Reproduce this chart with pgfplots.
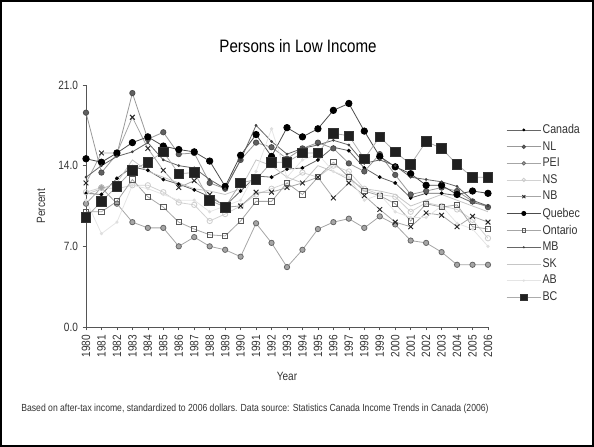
\documentclass[border=0pt]{standalone}
\usepackage{fontspec}
\setmainfont{Liberation Sans}[FakeStretch=0.84]
\usepackage{pgfplots}
\usepackage{pgfplotstable}
\pgfplotsset{compat=1.18}

% percent of persons in low income, by province
\pgfplotstableread{
year Canada NL PEI NS NB Quebec Ontario MB SK AB BC
1980 11.6 18.6 10.7 11.7 12.5 14.6 10.0 13.0 11.5 11.0 9.5
1981 11.5 13.4 12.1 12.1 15.1 14.3 10.0 14.0 12.0 8.1 10.9
1982 12.9 15.0 10.7 12.0 15.1 15.1 10.9 14.8 12.5 9.1 12.2
1983 13.9 20.3 9.1 12.3 18.2 16.0 12.8 15.2 14.5 12.3 13.6
1984 13.6 16.3 8.6 12.3 15.5 16.5 11.3 16.0 13.5 12.0 14.3
1985 12.8 16.9 8.6 11.7 13.6 15.7 10.4 14.5 13.0 11.5 15.2
1986 12.4 15.0 7.0 10.8 12.1 15.4 9.1 14.0 12.5 11.0 13.3
1987 11.9 15.1 7.8 10.6 12.7 15.2 8.5 13.8 12.0 11.0 13.4
1988 11.3 12.5 7.0 9.2 11.5 14.4 8.0 12.8 11.8 10.0 11.0
1989 10.5 12.0 6.7 9.8 10.4 12.2 7.9 12.0 11.5 10.5 10.4
1990 11.8 14.5 6.1 10.5 10.5 14.9 9.2 14.5 12.0 11.0 12.5
1991 13.1 16.0 9.0 11.5 11.7 16.7 10.9 17.5 14.5 13.5 12.8
1992 13.0 15.6 7.3 12.0 11.7 14.8 10.9 16.1 14.0 17.2 14.3
1993 13.7 14.6 5.2 12.5 12.1 17.3 12.5 15.0 13.0 13.0 14.3
1994 13.8 15.5 6.7 13.4 12.5 16.5 11.5 15.5 12.5 14.5 15.1
1995 14.5 16.0 8.5 13.0 13.0 17.2 13.0 15.8 14.0 15.0 15.1
1996 15.6 15.5 9.1 14.0 11.2 18.8 14.3 16.2 13.5 13.5 16.8
1997 15.3 14.2 9.4 13.5 12.5 19.4 13.0 15.8 12.8 13.0 16.6
1998 13.8 13.5 8.6 12.0 11.4 17.0 11.8 14.2 12.0 11.0 14.6
1999 13.0 15.0 9.6 11.5 10.2 14.8 11.4 14.5 11.8 11.5 16.5
2000 12.5 13.2 8.9 11.3 9.1 13.9 10.7 14.0 11.5 10.0 15.2
2001 11.2 11.5 7.5 10.0 8.7 13.3 9.2 13.0 10.5 9.5 14.1
2002 11.6 11.8 7.3 10.8 9.9 12.3 10.7 12.8 11.0 9.5 16.1
2003 11.6 12.1 6.5 10.5 9.7 12.3 10.4 12.6 11.5 10.5 15.5
2004 11.4 11.8 5.4 10.2 8.7 11.5 10.6 12.2 11.0 9.0 14.1
2005 10.8 10.9 5.4 9.3 9.6 11.8 8.7 11.0 10.5 8.5 13.0
2006 10.5 10.4 5.4 7.7 9.1 11.6 8.5 10.5 10.0 7.0 13.0
}\lowincome

\definecolor{axisgray}{HTML}{555555}
\definecolor{txtgray}{HTML}{333333}

\begin{document}
\begin{tikzpicture}
% picture is 594 x 447 px, 1 px = 0.75pt
\useasboundingbox (0pt,0pt) rectangle (445.5pt,335.25pt);
\draw[line width=1.2pt] (0.6pt,0.6pt) rectangle (444.9pt,334.65pt);

\node[font=\fontsize{13.5}{15}\selectfont, text=black] at (223.5pt,300.5pt) {Persons in Low Income};
\node[anchor=west, font=\fontsize{7.7}{9}\selectfont, text=txtgray] at (12.5pt,28.5pt)
  {Based on after-tax income, standardized to 2006 dollars. Data source: Statistics Canada Income Trends in Canada (2006)};

\begin{axis}[
    at={(64.5pt,90pt)}, anchor=south west,
    scale only axis,
    width=301.5pt, height=181.5pt,
    xmin=1980, xmax=2006,
    ymin=0, ymax=21,
    axis lines=left,
    axis line style={axisgray, -},
    every tick/.style={axisgray},
    tick align=outside,
    major tick length=2.5pt,
    xtick={1980,...,2006},
    ytick={0,7,14,21},
    /pgf/number format/assume math mode=true,
    ticklabel style={font=\fontsize{9}{10}\selectfont, text=txtgray},
    x tick label style={rotate=90, anchor=east, /pgf/number format/1000 sep={}},
    y tick label style={/pgf/number format/.cd, fixed, fixed zerofill, precision=1},
    xlabel={Year},
    ylabel={Percent},
    label style={font=\fontsize{9}{10}\selectfont, text=txtgray},
    xlabel style={yshift=-4pt},
    ylabel style={yshift=3pt},
    legend style={at={(1.035,0.855)}, anchor=north west, draw=none, fill=none,
        font=\fontsize{9.5}{10}\selectfont, text=txtgray,
        row sep=2.4pt, nodes={inner sep=1pt}},
    legend cell align=left,
    legend image code/.code={\draw[mark repeat=2,mark phase=2,#1, every mark/.append style={scale=0.65}] plot coordinates {(0cm,0cm) (0.45cm,0cm) (0.9cm,0cm)};},
    every axis plot/.append style={line width=0.6pt},
]
\addplot[gray!80!black, mark=*, mark size=1.1pt, mark options={fill=black, draw=black}] table[x=year, y=Canada] {\lowincome};
\addlegendentry{Canada}
\addplot[gray!80, mark=*, mark size=2pt, mark options={fill=gray!75!black, draw=gray!60!black}] table[x=year, y=NL] {\lowincome};
\addlegendentry{NL}
\addplot[gray!70, mark=*, mark size=2pt, mark options={fill=gray!70, draw=gray!80!black}] table[x=year, y=PEI] {\lowincome};
\addlegendentry{PEI}
\addplot[gray!35, mark=o, mark size=2pt, mark options={fill=white, draw=gray!40}] table[x=year, y=NS] {\lowincome};
\addlegendentry{NS}
\addplot[gray!70, mark=x, mark size=2.5pt, mark options={draw=gray!30!black, line width=0.7pt}] table[x=year, y=NB] {\lowincome};
\addlegendentry{NB}
\addplot[gray!60!black, mark=*, mark size=2.4pt, mark options={fill=black, draw=black}] table[x=year, y=Quebec] {\lowincome};
\addlegendentry{Quebec}
\addplot[gray!70, mark=square, mark size=2pt, mark options={fill=white, draw=gray!70!black}] table[x=year, y=Ontario] {\lowincome};
\addlegendentry{Ontario}
\addplot[gray!80!black, mark=*, mark size=0.7pt, mark options={fill=gray!50!black, draw=gray!50!black}] table[x=year, y=MB] {\lowincome};
\addlegendentry{MB}
\addplot[gray!45] table[x=year, y=SK] {\lowincome};
\addlegendentry{SK}
\addplot[gray!20, mark=*, mark size=0.9pt, mark options={fill=gray!25, draw=gray!25}] table[x=year, y=AB] {\lowincome};
\addlegendentry{AB}
\addplot[gray!65, mark=square*, mark size=3.6pt, mark options={fill=gray!25!black, draw=gray!40!black}] table[x=year, y=BC] {\lowincome};
\addlegendentry{BC}
\end{axis}
\end{tikzpicture}
\end{document}
